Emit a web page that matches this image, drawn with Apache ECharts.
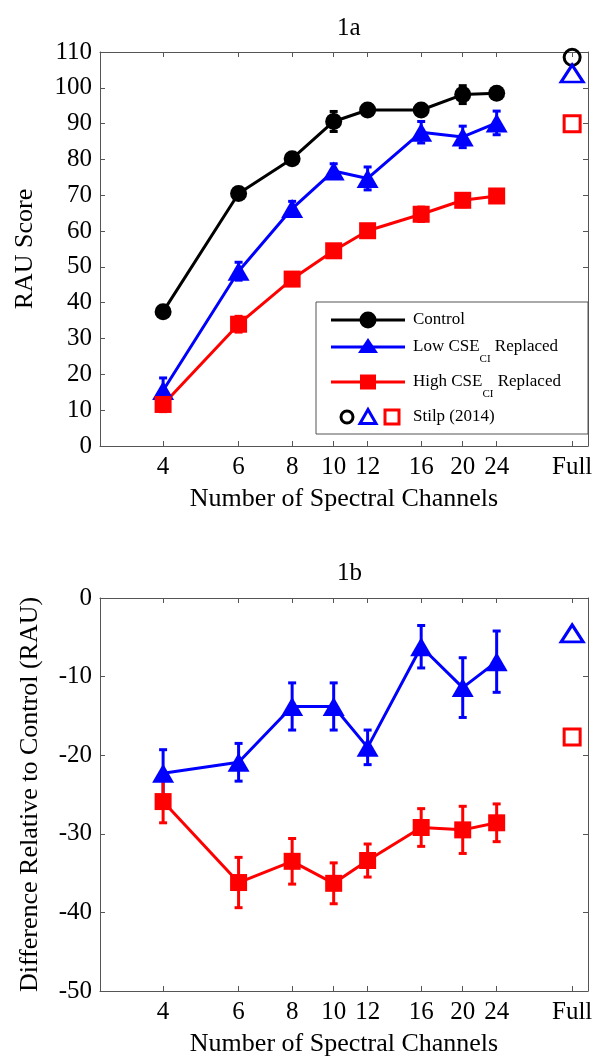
<!DOCTYPE html>
<html>
<head>
<meta charset="utf-8">
<script src="https://cdn.jsdelivr.net/npm/echarts@6/dist/echarts.min.js"></script>
<style>
  html, body { margin: 0; padding: 0; background: #fff; }
  #chart { width: 595px; height: 1058px; }
</style>
</head>
<body>
<div id="chart"></div>
<script>
// number of spectral channels (log axis), "Full" sits at 36
const channels = [4, 6, 8, 10, 12, 16, 20, 24];
const fullX = 36;
const tickValues = [4, 6, 8, 10, 12, 16, 20, 24, 36];

// 1a: RAU score
const controlMean = [37.5, 70.5, 80.2, 90.6, 93.8, 93.8, 98.1, 98.5];
const controlErr  = [1.2, 1.2, 1.2, 2.8, 1.2, 1.3, 2.5, 1.5];
const lowMean     = [15.5, 48.8, 66.3, 76.8, 74.7, 87.6, 86.3, 90.2];
const lowErr      = [3.5, 2.5, 2.0, 2.0, 3.2, 3.0, 3.0, 3.3];
const highMean    = [11.6, 34.0, 46.6, 54.5, 60.1, 64.7, 68.6, 69.8];
const highErr     = [2.0, 2.2, 1.8, 1.5, 1.2, 2.0, 1.8, 1.8];
const stilpScore  = [108.5, 104.0, 90.0]; // control, low, high

// 1b: difference relative to control
const lowDiff     = [-22.3, -20.9, -13.8, -13.8, -19.0, -6.2, -11.4, -8.1];
const lowDiffErr  = [3.0, 2.4, 3.0, 3.0, 2.2, 2.7, 3.8, 3.9];
const highDiff    = [-25.9, -36.2, -33.5, -36.3, -33.4, -29.2, -29.5, -28.6];
const highDiffErr = [2.7, 3.2, 2.9, 2.6, 2.1, 2.4, 3.0, 2.4];
const stilpDiff   = [-4.5, -17.7]; // low, high

const FONT = "'Liberation Serif', 'Times New Roman', serif";
const AXIS = '#555';
const BLACK = '#000', BLUE = '#0000ff', RED = '#ff0000';

const chart = echarts.init(document.getElementById('chart'));

function xAx(gridIndex, position, labels, name) {
  return {
    type: 'log', logBase: 10, gridIndex, position,
    min: 2.85, max: 39.2,
    name: labels ? name : '', nameLocation: 'middle', nameGap: 40,
    nameTextStyle: { fontFamily: FONT, fontSize: 26, color: BLACK },
    axisLine: { show: true, onZero: false, lineStyle: { color: AXIS, width: 1 } },
    axisTick: { show: true, inside: true, length: 5, customValues: tickValues, lineStyle: { color: AXIS } },
    minorTick: { show: false },
    axisLabel: {
      show: labels, customValues: tickValues, margin: 9,
      fontFamily: FONT, fontSize: 25, color: BLACK,
      formatter: v => Math.abs(v - fullX) < 0.01 ? 'Full' : String(Math.round(v))
    },
    splitLine: { show: false }
  };
}

function yAx(gridIndex, position, labels, min, max, name, gap) {
  return {
    type: 'value', gridIndex, position, min, max, interval: 10,
    name: labels ? name : '', nameLocation: 'middle', nameGap: gap,
    nameTextStyle: { fontFamily: FONT, fontSize: 26, color: BLACK },
    axisLine: { show: true, lineStyle: { color: AXIS, width: 1 } },
    axisTick: { show: true, inside: true, length: 5, lineStyle: { color: AXIS } },
    axisLabel: { show: labels, margin: 8, fontFamily: FONT, fontSize: 25, color: BLACK },
    splitLine: { show: false }
  };
}

function lineSeries(name, ys, color, symbol, size, axisIdx) {
  return {
    name, type: 'line', xAxisIndex: axisIdx, yAxisIndex: axisIdx,
    data: channels.map((c, i) => [c, ys[i]]),
    symbol, symbolSize: size, showSymbol: true,
    lineStyle: { color, width: 3 },
    itemStyle: { color, opacity: 1 },
    z: 4, animation: false
  };
}

function errSeries(ys, errs, color, axisIdx) {
  return {
    type: 'custom', xAxisIndex: axisIdx, yAxisIndex: axisIdx,
    data: channels.map((c, i) => [c, ys[i] - errs[i], ys[i] + errs[i]]),
    encode: { x: 0, y: [1, 2] },
    renderItem: (params, api) => {
      const lo = api.coord([api.value(0), api.value(1)]);
      const hi = api.coord([api.value(0), api.value(2)]);
      const cap = 4;
      const st = { stroke: color, lineWidth: 3 };
      return {
        type: 'group',
        children: [
          { type: 'line', shape: { x1: lo[0], y1: lo[1], x2: hi[0], y2: hi[1] }, style: st },
          { type: 'line', shape: { x1: lo[0] - cap, y1: lo[1], x2: lo[0] + cap, y2: lo[1] }, style: st },
          { type: 'line', shape: { x1: hi[0] - cap, y1: hi[1], x2: hi[0] + cap, y2: hi[1] }, style: st }
        ]
      };
    },
    z: 3, animation: false
  };
}

function openMarker(y, color, symbol, size, axisIdx) {
  return {
    type: 'scatter', xAxisIndex: axisIdx, yAxisIndex: axisIdx,
    data: [[fullX, y]], symbol, symbolSize: size,
    itemStyle: { color: 'rgba(255,255,255,0)', borderColor: color, borderWidth: 3, opacity: 1 },
    z: 5, animation: false
  };
}

// legend drawn by hand (the Stilp row has three markers and one label)
const legX = 316, legY = 302, legW = 272, legH = 132;
const lineX1 = 331, lineX2 = 405, mX = 368, tX = 413;
const rows = [320, 347, 382, 417];
const subRich = {
  a: { fontFamily: FONT, fontSize: 17, color: BLACK, lineHeight: 20 },
  s: { fontFamily: FONT, fontSize: 11, color: BLACK, padding: [24, 0, 0, 0] }
};
function tri(cx, cy, w, h) {
  return [[cx, cy - h * 0.6], [cx - w / 2, cy + h * 0.4], [cx + w / 2, cy + h * 0.4]];
}
const legend = [
  { type: 'rect', shape: { x: legX, y: legY, width: legW, height: legH }, style: { fill: '#fff', stroke: AXIS, lineWidth: 1 } },
  { type: 'line', shape: { x1: lineX1, y1: rows[0], x2: lineX2, y2: rows[0] }, style: { stroke: BLACK, lineWidth: 3 } },
  { type: 'circle', shape: { cx: mX, cy: rows[0], r: 8.5 }, style: { fill: BLACK } },
  { type: 'text', x: tX, y: rows[0], style: { text: 'Control', fontFamily: FONT, fontSize: 17, fill: BLACK, verticalAlign: 'middle' } },
  { type: 'line', shape: { x1: lineX1, y1: rows[1], x2: lineX2, y2: rows[1] }, style: { stroke: BLUE, lineWidth: 3 } },
  { type: 'polygon', shape: { points: tri(mX, rows[1], 20, 15) }, style: { fill: BLUE } },
  { type: 'text', x: tX, y: rows[1], style: { text: '{a|Low CSE}{s|CI}{a| Replaced}', rich: subRich, verticalAlign: 'middle' } },
  { type: 'line', shape: { x1: lineX1, y1: rows[2], x2: lineX2, y2: rows[2] }, style: { stroke: RED, lineWidth: 3 } },
  { type: 'rect', shape: { x: mX - 8, y: rows[2] - 7.5, width: 16, height: 15 }, style: { fill: RED } },
  { type: 'text', x: tX, y: rows[2], style: { text: '{a|High CSE}{s|CI}{a| Replaced}', rich: subRich, verticalAlign: 'middle' } },
  { type: 'circle', shape: { cx: 347, cy: rows[3], r: 6 }, style: { fill: 'none', stroke: BLACK, lineWidth: 3 } },
  { type: 'polygon', shape: { points: tri(368, rows[3] + 1, 16, 14) }, style: { fill: 'none', stroke: BLUE, lineWidth: 3 } },
  { type: 'rect', shape: { x: 385, y: rows[3] - 7, width: 14, height: 14 }, style: { fill: 'none', stroke: RED, lineWidth: 3 } },
  { type: 'text', x: tX, y: rows[3], style: { text: 'Stilp (2014)', fontFamily: FONT, fontSize: 17, fill: BLACK, verticalAlign: 'middle' } }
].map(e => Object.assign({ z: 100 }, e));

chart.setOption({
  backgroundColor: '#fff',
  animation: false,
  title: [
    { text: '1a', left: 332, top: 11, textStyle: { fontFamily: FONT, fontSize: 25, fontWeight: 'normal', color: BLACK } },
    { text: '1b', left: 332, top: 556, textStyle: { fontFamily: FONT, fontSize: 25, fontWeight: 'normal', color: BLACK } }
  ],
  grid: [
    { left: 100, right: 7, top: 52, height: 394, outerBoundsMode: 'none', containLabel: false },
    { left: 100, right: 7, top: 598, height: 393, outerBoundsMode: 'none', containLabel: false }
  ],
  xAxis: [
    xAx(0, 'bottom', true, 'Number of Spectral Channels'),
    xAx(0, 'top', false),
    xAx(1, 'bottom', true, 'Number of Spectral Channels'),
    xAx(1, 'top', false)
  ],
  yAxis: [
    yAx(0, 'left', true, 0, 110, 'RAU Score', 62),
    yAx(0, 'right', false, 0, 110),
    yAx(1, 'left', true, -50, 0, 'Difference Relative to Control (RAU)', 57),
    yAx(1, 'right', false, -50, 0)
  ],
  series: [
    errSeries(controlMean, controlErr, BLACK, 0),
    errSeries(lowMean, lowErr, BLUE, 0),
    errSeries(highMean, highErr, RED, 0),
    lineSeries('Control', controlMean, BLACK, 'circle', 17, 0),
    lineSeries('Low CSE Replaced', lowMean, BLUE, 'triangle', [22, 19], 0),
    lineSeries('High CSE Replaced', highMean, RED, 'rect', 17, 0),
    openMarker(stilpScore[0], BLACK, 'circle', 16, 0),
    openMarker(stilpScore[1], BLUE, 'triangle', [22, 17], 0),
    openMarker(stilpScore[2], RED, 'rect', 16, 0),

    errSeries(lowDiff, lowDiffErr, BLUE, 2),
    errSeries(highDiff, highDiffErr, RED, 2),
    lineSeries('Low CSE Replaced', lowDiff, BLUE, 'triangle', [22, 19], 2),
    lineSeries('High CSE Replaced', highDiff, RED, 'rect', 17, 2),
    openMarker(stilpDiff[0], BLUE, 'triangle', [22, 17], 2),
    openMarker(stilpDiff[1], RED, 'rect', 16, 2)
  ],
  graphic: legend
});
</script>
</body>
</html>
